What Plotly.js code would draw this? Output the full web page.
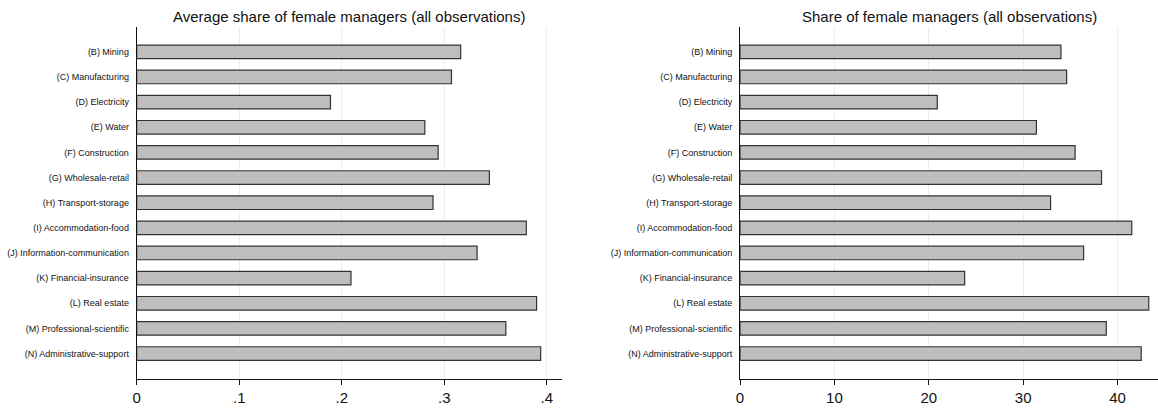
<!DOCTYPE html>
<html>
<head>
<meta charset="utf-8">
<script src="https://cdn.plot.ly/plotly-3.0.1.min.js"></script>
<style>
  html, body { margin: 0; padding: 0; background: #fff; }
  #chart { width: 1158px; height: 408px; }
</style>
</head>
<body>
<div id="chart"></div>
<script>
// Industry sectors, top to bottom
const sectors = [
  "(B) Mining",
  "(C) Manufacturing",
  "(D) Electricity",
  "(E) Water",
  "(F) Construction",
  "(G) Wholesale-retail",
  "(H) Transport-storage",
  "(I) Accommodation-food",
  "(J) Information-communication",
  "(K) Financial-insurance",
  "(L) Real estate",
  "(M) Professional-scientific",
  "(N) Administrative-support"
];

// Average share of female managers across firms (fraction)
const avgShare = [0.316, 0.307, 0.189, 0.281, 0.294, 0.344, 0.289, 0.380, 0.332, 0.209, 0.390, 0.360, 0.394];

// Share of female managers in all managers (percent)
const pctShare = [34.0, 34.6, 20.9, 31.4, 35.5, 38.3, 32.9, 41.5, 36.4, 23.8, 43.3, 38.8, 42.5];

// Axis ticks
const leftTicks = [0, 0.1, 0.2, 0.3, 0.4];
const leftTickText = ["0", ".1", ".2", ".3", ".4"];
const rightTicks = [0, 10, 20, 30, 40];
const rightTickText = ["0", "10", "20", "30", "40"];

const W = 1158, H = 408;
const FONT = "Liberation Sans, Arial, sans-serif";
const barStyle = {
  type: "bar",
  orientation: "h",
  width: 0.54,
  marker: { color: "#bebebe", line: { color: "#333333", width: 1.2 } },
  hoverinfo: "x+y"
};

const traces = [
  Object.assign({}, barStyle, { x: avgShare, y: sectors, xaxis: "x", yaxis: "y" }),
  Object.assign({}, barStyle, { x: pctShare, y: sectors, xaxis: "x2", yaxis: "y2" })
];

const yTop = 1 - 26.7 / H, yBot = 1 - 378.7 / H;

const xCommon = {
  showgrid: true,
  gridcolor: "#e6eff1",
  gridwidth: 1,
  zeroline: false,
  showline: true,
  linecolor: "#111",
  linewidth: 1,
  ticks: "outside",
  ticklen: 5,
  tickwidth: 1,
  tickcolor: "#111",
  tickfont: { family: FONT, size: 15, color: "#111" },
  tickmode: "array",
  fixedrange: true
};
const yCommon = {
  type: "category",
  range: [13, -1],
  showgrid: false,
  zeroline: false,
  showline: true,
  linecolor: "#111",
  linewidth: 1,
  ticks: "",
  ticklabelstandoff: 5,
  tickfont: { family: FONT, size: 9, color: "#111" },
  domain: [yBot, yTop],
  fixedrange: true
};

const layout = {
  width: W,
  height: H,
  margin: { l: 0, r: 0, t: 0, b: 0 },
  paper_bgcolor: "#fff",
  plot_bgcolor: "#fff",
  showlegend: false,
  bargap: 0,
  xaxis: Object.assign({}, xCommon, {
    domain: [136.7 / W, 562 / W],
    range: [0, 0.4148],
    tickvals: leftTicks,
    ticktext: leftTickText,
    anchor: "y"
  }),
  yaxis: Object.assign({}, yCommon, { anchor: "x" }),
  xaxis2: Object.assign({}, xCommon, {
    domain: [740 / W, 1],
    range: [0, 44.28],
    tickvals: rightTicks,
    ticktext: rightTickText,
    anchor: "y2"
  }),
  yaxis2: Object.assign({}, yCommon, { anchor: "x2" }),
  annotations: [
    {
      text: "Average share of female managers (all observations)",
      xref: "paper", yref: "paper",
      x: (136.7 + 562) / 2 / W, y: 1 - 17 / H,
      xanchor: "center", yanchor: "middle",
      showarrow: false,
      font: { family: FONT, size: 15, color: "#111" }
    },
    {
      text: "Share of female managers (all observations)",
      xref: "paper", yref: "paper",
      x: (740 + 1158) / 2 / W, y: 1 - 17 / H,
      xanchor: "center", yanchor: "middle",
      showarrow: false,
      font: { family: FONT, size: 15, color: "#111" }
    }
  ]
};

Plotly.newPlot("chart", traces, layout, { displayModeBar: false, staticPlot: true });
</script>
</body>
</html>
